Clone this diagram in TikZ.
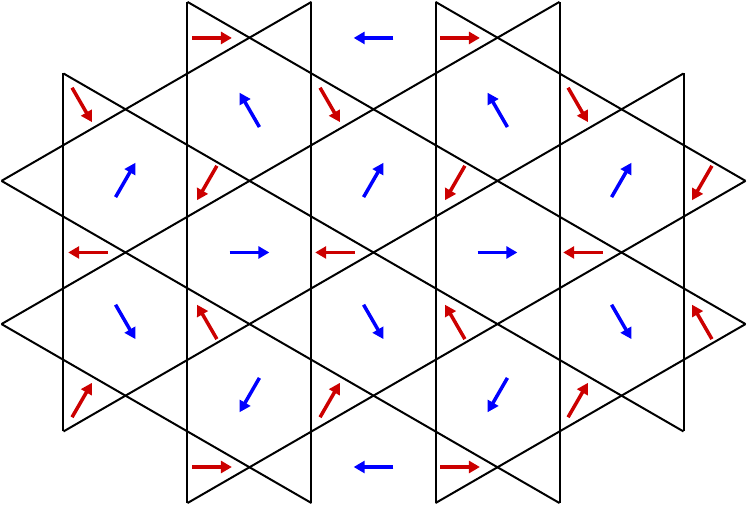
\documentclass[tikz,border=0pt]{standalone}
\usetikzlibrary{arrows.meta}
\newcommand{\spinarrow}[4]{\draw[#4] (#1,#2) ++(#3+180:0.16) -- ++(#3:0.32);}
\begin{document}
\begin{tikzpicture}[x=124pt,y=124pt]
	\tikzstyle{lattice}=[line width=2pt,line join=miter]
	\tikzstyle{redspin}=[line width=3.5pt,red!80!black,-{Triangle[length=11pt,width=12pt]}]
	\tikzstyle{bluespin}=[line width=3.5pt,blue,-{Triangle[length=11pt,width=12pt]}]
	\useasboundingbox (-3.012,-2.036) rectangle (3.012,2.036);
	% vertical lines
	\draw[lattice] (-2.5,-1.4434) -- (-2.5,1.4434);
	\draw[lattice] (2.5,-1.4434) -- (2.5,1.4434);
	\foreach \x in {-1.5,-0.5,0.5,1.5}
		\draw[lattice] (\x,-2.0207) -- (\x,2.0207);
	% descending lines
	\draw[lattice] (-1.5,2.0207) -- (3,-0.5774);
	\draw[lattice] (-2.5,1.4434) -- (2.5,-1.4434);
	\draw[lattice] (-3,0.5774) -- (1.5,-2.0207);
	\draw[lattice] (0.5,2.0207) -- (3,0.5774);
	\draw[lattice] (-3,-0.5774) -- (-0.5,-2.0207);
	% ascending lines
	\draw[lattice] (1.5,2.0207) -- (-3,-0.5774);
	\draw[lattice] (2.5,1.4434) -- (-2.5,-1.4434);
	\draw[lattice] (3,0.5774) -- (-1.5,-2.0207);
	\draw[lattice] (-0.5,2.0207) -- (-3,0.5774);
	\draw[lattice] (3,-0.5774) -- (0.5,-2.0207);
	% red spins
	\foreach \x/\y/\a in {-1.302/1.73/0, 0.698/1.73/0, -1.302/-1.73/0, 0.698/-1.73/0,
		-2.351/1.19/-60, -0.351/1.19/-60, 1.649/1.19/-60,
		-1.343/0.56/-120, 0.657/0.56/-120, 2.649/0.56/-120,
		-2.302/0/180, -0.31/0/180, 1.69/0/180,
		-1.343/-0.56/120, 0.657/-0.56/120, 2.649/-0.56/120,
		-2.351/-1.19/60, -0.351/-1.19/60, 1.649/-1.19/60}
		{\spinarrow{\x}{\y}{\a}{redspin}}
	% blue spins
	\foreach \x/\y/\a in {0/1.73/180, 0/-1.73/180,
		-2/0.585/60, 0/0.585/60, 2/0.585/60,
		-1/1.15/120, 1/1.15/120,
		-1/0/0, 1/0/0,
		-2/-0.56/-60, 0/-0.56/-60, 2/-0.56/-60,
		-1/-1.15/-120, 1/-1.15/-120}
		{\spinarrow{\x}{\y}{\a}{bluespin}}
\end{tikzpicture}
\end{document}
